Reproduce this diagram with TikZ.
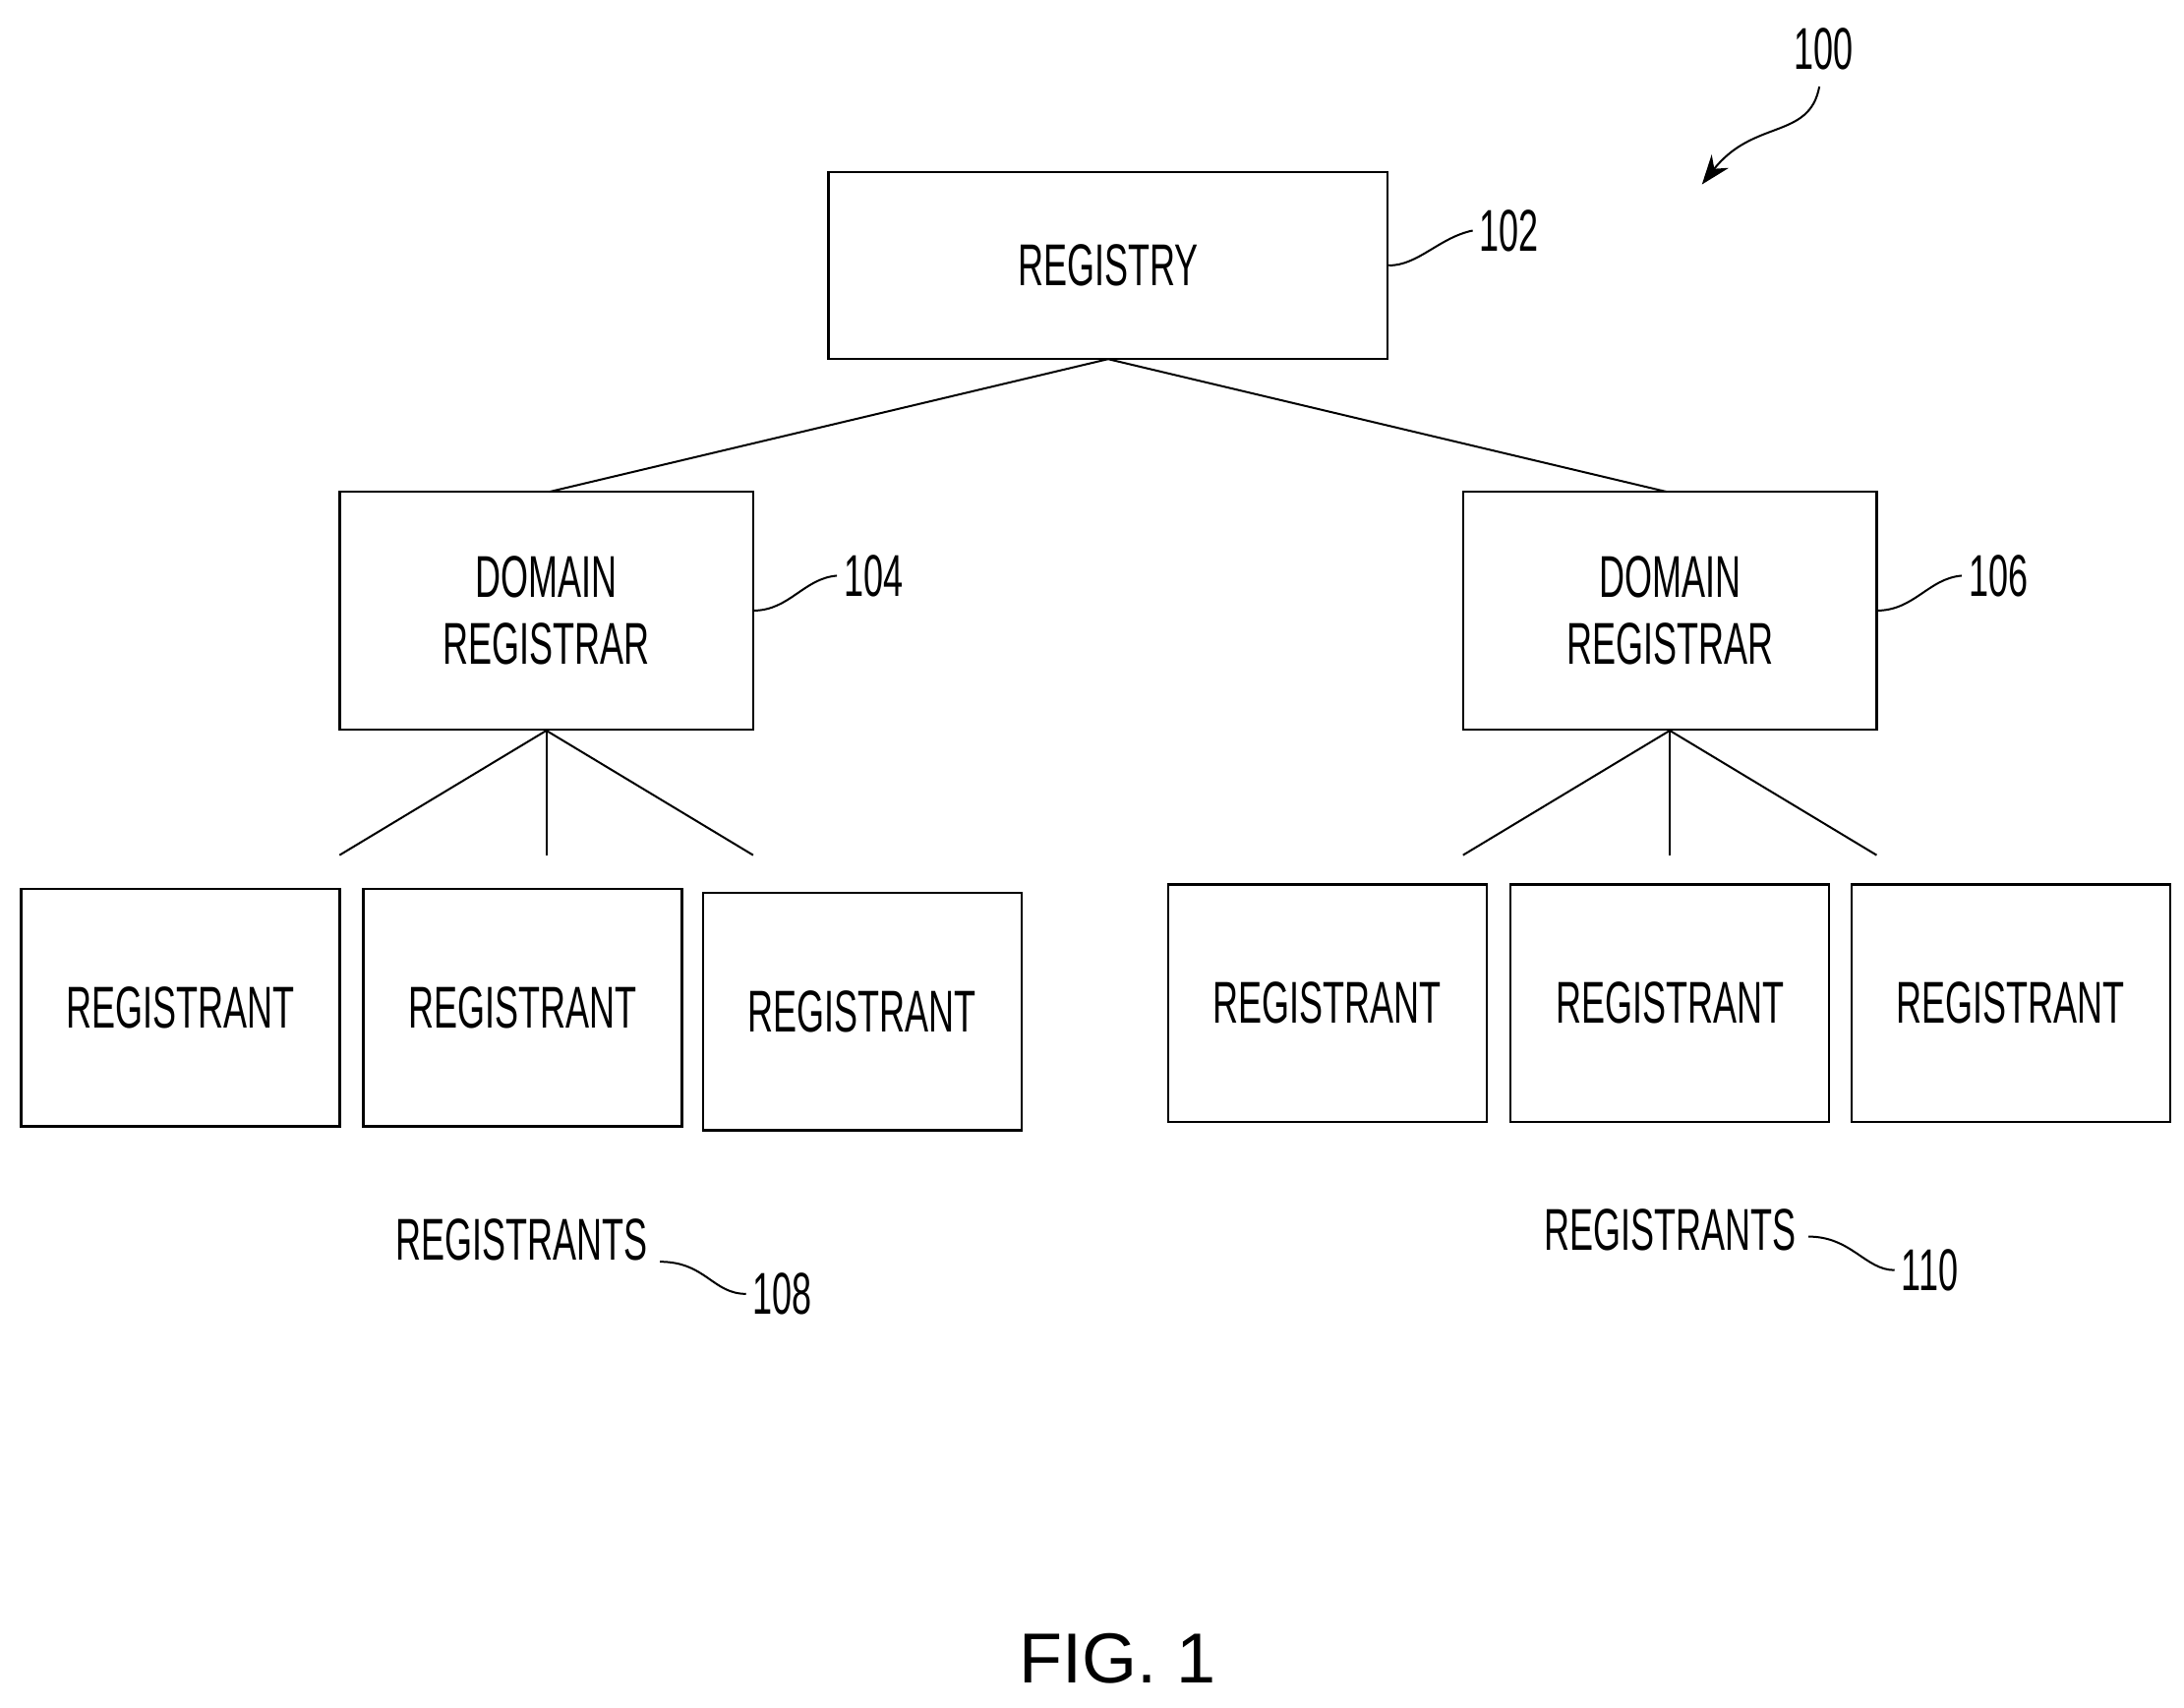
\documentclass[tikz,border=0pt]{standalone}
\usepackage{fontspec}
\setmainfont[FakeStretch=0.6]{Liberation Sans}
\newfontfamily\figfont{Liberation Sans}
\usetikzlibrary{arrows.meta}
\begin{document}
\begin{tikzpicture}[x=1.421pt,y=-1.421pt,
  box/.style={draw,line width=2.4pt,inner sep=0pt,font=\fontsize{60}{68}\selectfont,align=center},
  lab/.style={font=\fontsize{60}{62}\selectfont,inner sep=0pt}]
\useasboundingbox (0,0) rectangle (1563,1222);
\tikzset{every path/.style={line width=2pt}}
\node[box,minimum width=400*1.421pt,minimum height=134*1.421pt] (reg) at (793,190) {REGISTRY};
\node[box,minimum width=296*1.421pt,minimum height=170*1.421pt] (dl) at (391,437) {DOMAIN\\REGISTRAR};
\node[box,minimum width=296*1.421pt,minimum height=170*1.421pt] (dr) at (1195,437) {DOMAIN\\REGISTRAR};
\foreach \n/\x/\y in {a/129/721,b/374/721,c/617/724,d/950/718,e/1195/718,f/1439/718}
  \node[box,minimum width=228*1.421pt,minimum height=170*1.421pt] (\n) at (\x,\y) {REGISTRANT};
\coordinate (rb) at (793,257);
\draw (rb) -- (393,352);
\draw (rb) -- (1193,352);
\coordinate (l1) at (243,612); \coordinate (l2) at (391,612); \coordinate (l3) at (539,612);
\coordinate (r1) at (1047,612); \coordinate (r2) at (1195,612); \coordinate (r3) at (1343,612);
\draw (dl.south) -- (l1); \draw (dl.south) -- (l2); \draw (dl.south) -- (l3);
\draw (dr.south) -- (r1); \draw (dr.south) -- (r2); \draw (dr.south) -- (r3);
% labels
\node[lab] (n102) at (1080,165) {102};
\draw (reg.east |- 0,190) .. controls (1015,190) and (1030,170) .. ([xshift=-6pt]n102.west);
\node[lab] (n104) at (625,412) {104};
\draw (539,437) .. controls (565,437) and (575,414) .. ([xshift=-6pt]n104.west);
\node[lab] (n106) at (1430,412) {106};
\draw (1343,437) .. controls (1370,437) and (1380,414) .. ([xshift=-6pt]n106.west);
\node[lab] (t108) at (373,887) {REGISTRANTS};
\node[lab] (n108) at (560,926) {108};
\draw ([xshift=12pt]t108.east |- 0,903) .. controls (505,903) and (510,926) .. ([xshift=-6pt]n108.west);
\node[lab] (t110) at (1195,880) {REGISTRANTS};
\node[lab] (n110) at (1381,909) {110};
\draw ([xshift=12pt]t110.east |- 0,885) .. controls (1325,885) and (1335,909) .. ([xshift=-6pt]n110.west);
\node[lab] (n100) at (1305,35) {100};
\draw[-{Stealth[length=30pt,width=22pt]}] (1302,62) .. controls (1295,100) and (1255,85) .. (1218,132);
\node[font=\figfont\fontsize{72}{74}\selectfont,inner sep=0pt] (fig) at (800,1187) {FIG. 1};
\end{tikzpicture}
\end{document}
